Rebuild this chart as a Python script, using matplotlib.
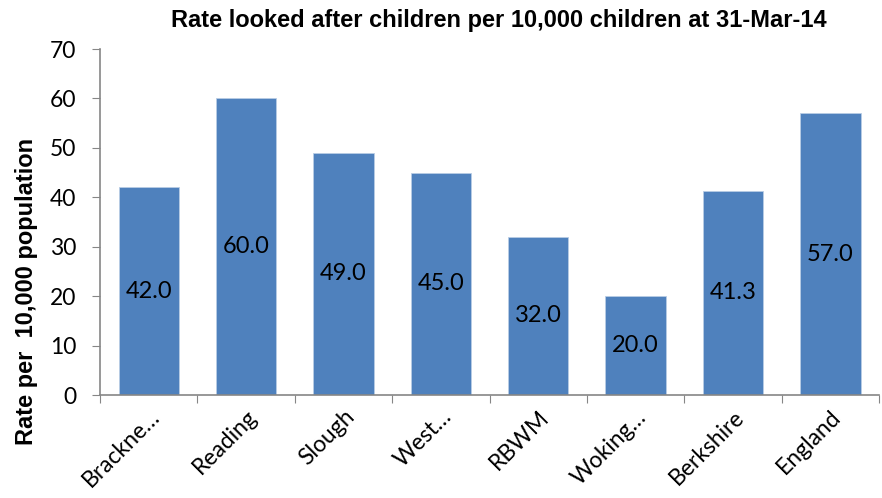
import matplotlib.pyplot as plt

areas = ["Brackne…", "Reading", "Slough", "West…", "RBWM", "Woking…", "Berkshire", "England"]
rates = [42.0, 60.0, 49.0, 45.0, 32.0, 20.0, 41.3, 57.0]

BAR_COLOUR = "#4F81BD"
AXIS_COLOUR = "#868686"

fig = plt.figure(figsize=(8.82, 4.98), dpi=100)
ax = fig.add_axes([0.1134, 0.2068, 0.8832, 0.6948])

x = range(len(areas))
bars = ax.bar(x, rates, width=0.62, color=BAR_COLOUR, edgecolor="#B9CDE5", linewidth=0.6)

# value labels sit in the middle of each bar
for b, v in zip(bars, rates):
    ax.text(b.get_x() + b.get_width() / 2, v / 2, f"{v:.1f}",
            ha="center", va="center", fontsize=17, family="Lato", color="black")

ax.set_xlim(-0.5, len(areas) - 0.5)
ax.set_ylim(0, 70)
ax.set_yticks(range(0, 71, 10))
ax.set_xticks([i - 0.5 for i in range(len(areas) + 1)], minor=False)
ax.set_xticklabels([])
ax.set_xticks(list(x), minor=True)
ax.set_xticklabels(areas, minor=True, rotation=45, ha="right", rotation_mode="anchor",
                   fontsize=16.5, family="Lato")
ax.tick_params(axis="x", which="minor", length=0, pad=8)
ax.tick_params(axis="x", which="major", length=6, color=AXIS_COLOUR, direction="out")
ax.tick_params(axis="y", length=6, color=AXIS_COLOUR, labelsize=16.5, pad=11)
for lbl in ax.get_yticklabels():
    lbl.set_family("Lato")

for side in ("top", "right"):
    ax.spines[side].set_visible(False)
for side in ("left", "bottom"):
    ax.spines[side].set_color(AXIS_COLOUR)
    ax.spines[side].set_linewidth(1.2)

ax.set_ylabel("Rate per  10,000 population", fontsize=17, fontweight="bold",
              family="Liberation Sans")
ax.yaxis.set_label_coords(-0.079, 0.30)
fig.text(0.566, 0.958, "Rate looked after children per 10,000 children at 31-Mar-14",
         ha="center", va="center", fontsize=17, fontweight="bold", family="Liberation Sans")

fig.savefig("out.png", dpi=100)
